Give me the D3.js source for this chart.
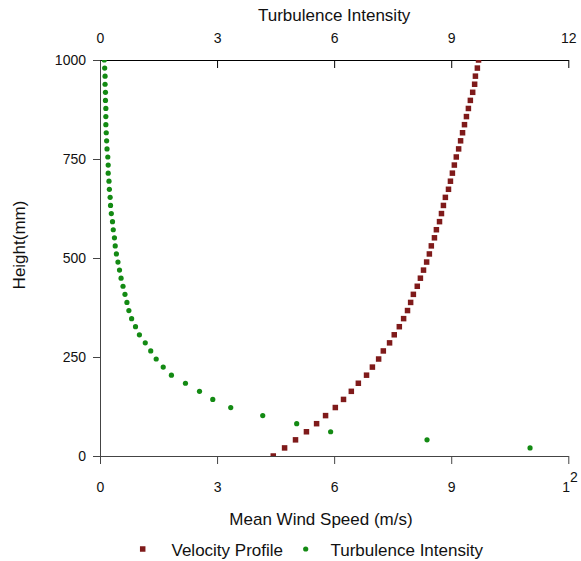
<!DOCTYPE html>
<html><head><meta charset="utf-8">
<script src="https://cdn.jsdelivr.net/npm/d3@7"></script>
<style>body{margin:0;background:#fff}svg{display:block;font-family:"Liberation Sans",Arial,sans-serif}</style>
</head><body><svg id="c" width="581" height="561"></svg>
<script>
const heights = [0,20.4,40.8,61.2,81.6,102,122.4,142.9,163.3,183.7,204.1,224.5,244.9,265.3,285.7,306.1,326.5,346.9,367.3,387.8,408.2,428.6,449,469.4,489.8,510.2,530.6,551,571.4,591.8,612.2,632.7,653.1,673.5,693.9,714.3,734.7,755.1,775.5,795.9,816.3,836.7,857.1,877.6,898,918.4,938.8,959.2,979.6,1000];
const velocity = [4.44,4.73,5.01,5.29,5.55,5.78,6.03,6.24,6.44,6.62,6.83,6.98,7.14,7.26,7.42,7.54,7.67,7.78,7.88,7.96,8.03,8.13,8.21,8.29,8.37,8.44,8.49,8.57,8.62,8.70,8.75,8.80,8.85,8.93,8.98,9.03,9.08,9.13,9.19,9.24,9.29,9.34,9.39,9.44,9.49,9.55,9.60,9.62,9.67,9.70];
const turbulence = [null,11.02,8.38,5.91,5.04,4.17,3.35,2.89,2.55,2.19,1.83,1.62,1.44,1.30,1.16,1.01,0.91,0.81,0.74,0.69,0.64,0.59,0.54,0.50,0.46,0.42,0.39,0.37,0.34,0.32,0.29,0.27,0.26,0.24,0.23,0.21,0.21,0.20,0.18,0.17,0.16,0.15,0.15,0.15,0.14,0.14,0.13,0.13,0.12,0.11];
const xTicks = [0,3,6,9,12];
const yTicks = [0,250,500,750,1000];
const labels = {x:"Mean Wind Speed (m/s)", x2:"Turbulence Intensity", y:"Height(mm)"};
const legendItems = ["Velocity Profile","Turbulence Intensity"];
const colors = {vel:"#7f1a1a", ti:"#138a13"};

const svg = d3.select("#c");
const m = {l:100, t:60, r:581-568.3, b:561-456};
const W = 581-m.l-m.r, H = 561-m.t-m.b;
const x = d3.scaleLinear().domain([0,12]).range([0,W]);
const y = d3.scaleLinear().domain([0,1000]).range([H,0]);
const g = svg.append("g").attr("transform",`translate(${m.l},${m.t})`);

g.append("defs").append("clipPath").attr("id","clip").append("rect").attr("width",W).attr("height",H);

const fmt = d=>String(d);
const xb = g.append("g").attr("transform",`translate(0,${H})`)
  .call(d3.axisBottom(x).tickValues(xTicks).tickSize(8).tickPadding(18).tickSizeOuter(0).tickFormat(fmt));
const xt = g.append("g")
  .call(d3.axisTop(x).tickValues(xTicks).tickSize(-8).tickPadding(17).tickSizeOuter(0).tickFormat(fmt));
const yl = g.append("g")
  .call(d3.axisLeft(y).tickValues(yTicks).tickSize(7).tickPadding(7).tickSizeOuter(0).tickFormat(fmt));
[xb,xt,yl].forEach(a=>{a.selectAll("text").attr("font-size",14).attr("fill","#111").attr("font-family",null);a.attr("font-family",null);});
xb.selectAll("path,line").attr("stroke","#444");
yl.selectAll("path,line").attr("stroke","#444");
xt.selectAll("path,line").attr("stroke","#000");
// reference quirk: last bottom label "12" drawn with the "2" raised
xb.selectAll(".tick text").filter(d=>d===12).each(function(){
  const t=d3.select(this); t.text(null).attr("text-anchor","start").attr("x",-6.5);
  t.append("tspan").text("1");
  t.append("tspan").attr("dy",-9.5).text("2");
});

const plot = g.append("g").attr("clip-path","url(#clip)");
const vs = 5.5;
plot.selectAll("rect.v").data(heights.map((h,i)=>({h,v:velocity[i]}))).join("rect")
  .attr("class","v").attr("x",d=>x(d.v)-vs/2).attr("y",d=>y(d.h)-vs/2)
  .attr("width",vs).attr("height",vs).attr("fill",colors.vel);
plot.selectAll("circle.t").data(heights.map((h,i)=>({h,v:turbulence[i]})).filter(d=>d.v!=null)).join("circle")
  .attr("class","t").attr("cx",d=>x(d.v)).attr("cy",d=>y(d.h)).attr("r",2.6).attr("fill",colors.ti);

svg.append("text").attr("x",321).attr("y",525).attr("text-anchor","middle").attr("font-size",17).attr("fill","#111").text(labels.x);
svg.append("text").attr("x",m.l+W/2).attr("y",21).attr("text-anchor","middle").attr("font-size",17).attr("fill","#111").text(labels.x2);
svg.append("text").attr("transform",`translate(25,245) rotate(-90)`).attr("text-anchor","middle").attr("font-size",17).attr("fill","#111").text(labels.y);

const lg = svg.append("g");
lg.append("rect").attr("x",142.7-vs/2).attr("y",549-vs/2).attr("width",vs).attr("height",vs).attr("fill",colors.vel);
lg.append("text").attr("x",171.5).attr("y",555.5).attr("font-size",17).attr("fill","#111").text(legendItems[0]);
lg.append("circle").attr("cx",305.7).attr("cy",549).attr("r",2.6).attr("fill",colors.ti);
lg.append("text").attr("x",330.5).attr("y",555.5).attr("font-size",17).attr("fill","#111").text(legendItems[1]);
</script></body></html>
